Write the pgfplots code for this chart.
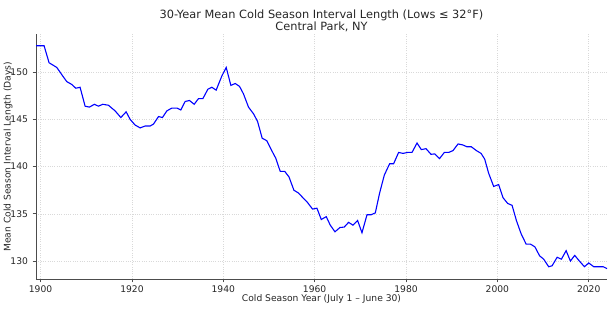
\documentclass[border=0pt]{standalone}
\usepackage{pgfplots}
\pgfplotsset{compat=1.18}
\usepackage{fontspec}
\setmainfont{DejaVu Sans}
\begin{document}
\begin{tikzpicture}
\path (-36bp,-43bp) rectangle (574bp,279bp);
\begin{axis}[
  at={(0,0)}, anchor=south west,
  scale only axis,
  width=571bp, height=244.6bp,
  xmin=1899, xmax=2024,
  ymin=128.1, ymax=154.0,
  axis x line*=bottom, axis y line*=left,
  axis line style={black!70, line width=0.8bp},
  xtick={1900,1920,...,2020},
  ytick={130,135,...,150},
  tick align=outside,
  major tick length=3.5bp,
  tick style={black!70, line width=0.7bp},
  grid=major,
  grid style={gray!30, line width=0.6bp, dash pattern=on 1bp off 1.3bp},
  /pgf/number format/assume math mode=true,
  ticklabel style={font=\fontsize{9.2}{10}\selectfont, text=black!85},
  xticklabel style={/pgf/number format/1000 sep={}},
  yticklabel style={xshift=-1bp},
  clip=false,
]
\addplot[blue, line width=1.1bp] coordinates {
(1899.0,152.8)(1900.77,152.8)(1901.86,151.0)(1903.55,150.5)(1904.99,149.5)(1905.74,149.0)(1906.83,148.7)(1907.71,148.3)(1908.65,148.4)(1909.75,146.4)(1910.69,146.3)(1911.79,146.6)(1912.66,146.4)(1913.63,146.6)(1914.85,146.5)(1916.32,145.9)(1917.57,145.2)(1918.73,145.8)(1919.61,145.0)(1920.70,144.4)(1921.80,144.1)(1922.89,144.3)(1923.99,144.3)(1924.71,144.5)(1925.81,145.3)(1926.68,145.2)(1927.65,145.9)(1928.74,146.2)(1929.84,146.2)(1930.71,146.0)(1931.65,146.9)(1932.60,147.0)(1933.63,146.6)(1934.57,147.2)(1935.53,147.2)(1936.63,148.2)(1937.50,148.4)(1938.44,148.1)(1939.69,149.6)(1940.64,150.5)(1941.66,148.6)(1942.61,148.8)(1943.55,148.5)(1944.42,147.7)(1945.52,146.3)(1946.61,145.6)(1947.49,144.8)(1948.52,143.0)(1949.51,142.75)(1950.49,141.8)(1951.48,140.9)(1952.46,139.5)(1953.45,139.5)(1954.39,138.9)(1955.46,137.5)(1956.47,137.2)(1957.44,136.7)(1958.44,136.2)(1959.54,135.5)(1960.50,135.6)(1961.45,134.4)(1962.54,134.7)(1963.42,133.8)(1964.45,133.1)(1965.54,133.55)(1966.48,133.6)(1967.43,134.1)(1968.39,133.8)(1969.40,134.3)(1970.36,133.0)(1971.46,134.9)(1972.33,134.9)(1973.28,135.1)(1974.22,137.2)(1975.25,139.1)(1976.41,140.3)(1977.28,140.3)(1978.38,141.5)(1979.34,141.4)(1980.35,141.5)(1981.31,141.5)(1982.41,142.5)(1983.35,141.8)(1984.38,141.9)(1985.48,141.3)(1986.31,141.35)(1987.34,140.85)(1988.39,141.5)(1989.33,141.5)(1990.30,141.7)(1991.39,142.4)(1992.40,142.3)(1993.36,142.1)(1994.30,142.1)(1995.40,141.7)(1996.43,141.4)(1997.22,140.8)(1998.09,139.3)(1999.19,137.9)(2000.28,138.1)(2001.25,136.7)(2002.26,136.1)(2003.22,135.9)(2004.16,134.3)(2005.19,132.9)(2006.29,131.8)(2007.23,131.8)(2008.22,131.5)(2009.25,130.55)(2010.14,130.2)(2011.24,129.4)(2011.98,129.5)(2013.08,130.4)(2014.02,130.2)(2015.05,131.1)(2015.99,130.0)(2016.93,130.6)(2017.96,130.0)(2019.06,129.4)(2020.00,129.8)(2021.10,129.4)(2022.19,129.4)(2023.16,129.4)(2024.0,129.2)
};
\end{axis}
\node[anchor=base, font=\fontsize{11.4}{13}\selectfont, text=black!85] at (285.5bp,260.5bp) {30-Year Mean Cold Season Interval Length (Lows ≤ 32°F)};
\node[anchor=base, font=\fontsize{11.4}{13}\selectfont, text=black!85] at (285.5bp,248bp) {Central Park, NY};
\node[anchor=base, font=\fontsize{9.2}{11}\selectfont, text=black!85] at (285.5bp,-22bp) {Cold Season Year (July 1 – June 30)};
\node[rotate=90, font=\fontsize{9.2}{11}\selectfont, text=black!85] at (-28bp,122.3bp) {Mean Cold Season Interval Length (Days)};
\end{tikzpicture}
\end{document}
